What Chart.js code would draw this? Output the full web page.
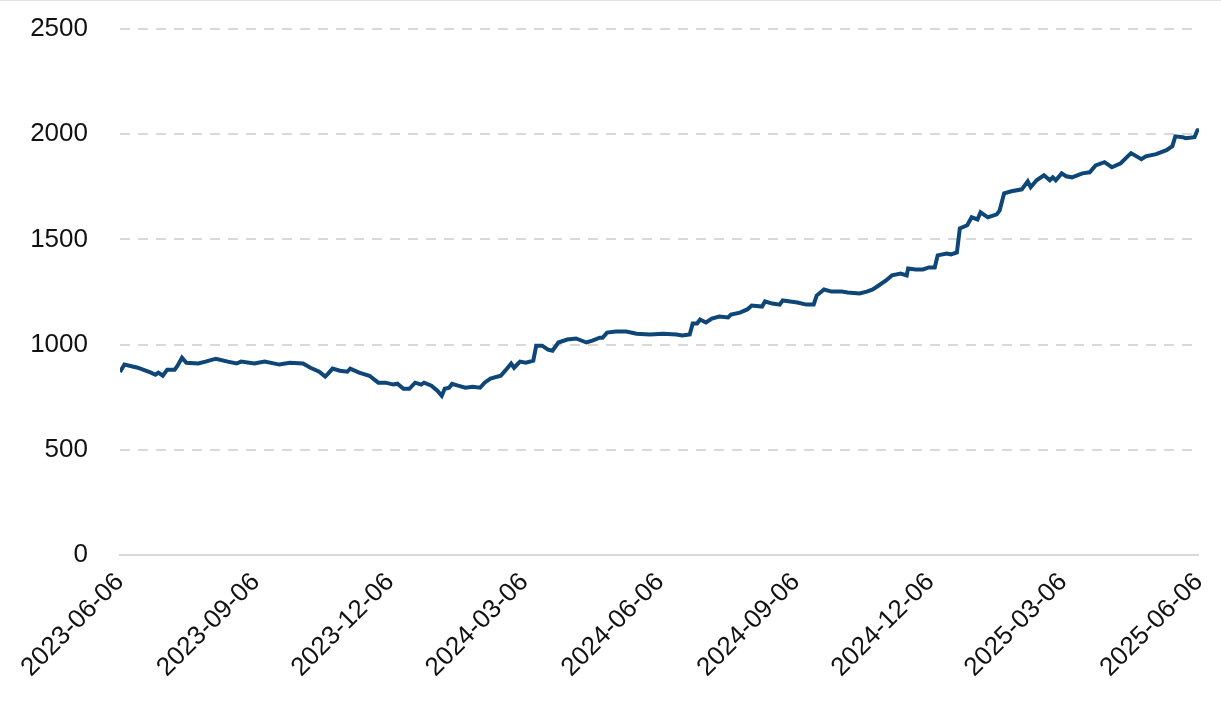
<!DOCTYPE html>
<html>
<head>
<meta charset="utf-8">
<script src="https://cdn.jsdelivr.net/npm/chart.js@4"></script>
<style>
  html, body { margin: 0; padding: 0; background: #fff; }
  #wrap { width: 1221px; height: 713px; border-top: 1px solid #e3e3e3; }
</style>
</head>
<body>
<div id="wrap"><canvas id="myChart" width="1221" height="713"></canvas></div>
<script>
// days since 2023-06-06
const days = [0, 3, 12, 21, 24, 26, 29, 32, 37, 39, 42, 45, 53, 58, 65, 73, 79, 82, 91, 98,
    108, 115, 124, 129, 135, 139, 141, 144, 149, 154, 156, 162, 169, 175, 180, 185, 188, 192, 196, 200,
    204, 206, 211, 215, 218, 220, 223, 225, 229, 234, 239, 244, 247, 251, 258, 261, 265, 267, 271, 275,
    280, 282, 286, 290, 293, 297, 303, 309, 316, 320, 325, 327, 330, 336, 343, 350, 359, 368, 377, 381,
    386, 388, 391, 393, 397, 401, 406, 412, 414, 420, 425, 428, 435, 437, 442, 447, 449, 454, 459, 465,
    470, 472, 477, 482, 489, 493, 501, 506, 510, 514, 519, 523, 529, 533, 534, 539, 544, 548, 552, 554,
    560, 563, 567, 569, 574, 577, 581, 583, 588, 594, 596, 599, 604, 611, 615, 617, 621, 626, 630, 632,
    634, 638, 641, 645, 652, 657, 661, 667, 672, 678, 682, 685, 692, 695, 702, 709, 713, 715, 720, 722,
    728, 730, 731];

const values = [870, 905, 890, 867, 857, 867, 852, 881, 881, 900, 938, 914, 910, 919, 933, 919, 910, 919, 910, 919,
    905, 914, 910, 890, 871, 848, 862, 886, 876, 871, 886, 867, 852, 819, 819, 810, 814, 790, 790, 819,
    810, 819, 805, 781, 757, 790, 795, 814, 805, 795, 800, 795, 819, 838, 852, 876, 910, 890, 919, 914,
    924, 995, 995, 976, 971, 1010, 1024, 1029, 1010, 1019, 1033, 1033, 1057, 1062, 1062, 1052, 1048, 1052, 1048, 1043,
    1048, 1100, 1100, 1119, 1105, 1124, 1133, 1129, 1143, 1152, 1167, 1186, 1181, 1205, 1195, 1190, 1210, 1205, 1200, 1190,
    1190, 1233, 1262, 1252, 1252, 1248, 1243, 1252, 1262, 1281, 1305, 1329, 1338, 1329, 1362, 1357, 1357, 1367, 1367, 1424,
    1433, 1429, 1438, 1552, 1567, 1605, 1595, 1629, 1605, 1619, 1638, 1719, 1729, 1738, 1776, 1748, 1781, 1805, 1781, 1795,
    1781, 1814, 1800, 1795, 1814, 1819, 1852, 1867, 1843, 1862, 1890, 1910, 1881, 1895, 1905, 1924, 1943, 1990, 1986, 1981,
    1986, 2019, 2020];

const tickDays = [0, 92, 183, 274, 366, 458, 549, 639, 731];
const tickLabels = ['2023-06-06', '2023-09-06', '2023-12-06', '2024-03-06', '2024-06-06',
    '2024-09-06', '2024-12-06', '2025-03-06', '2025-06-06'];
const yTicks = [0, 500, 1000, 1500, 2000, 2500];

const chartCtx = document.getElementById('myChart').getContext('2d');
const chartConfig = {
    type: 'line',
    data: {
        datasets: [{
            data: days.map((d, i) => ({ x: d, y: values[i] })),
            borderColor: '#0d4677',
            borderWidth: 4,
            pointRadius: 0,
            tension: 0,
            fill: false,
        }]
    },
    options: {
        responsive: false,
        animation: false,
        layout: { padding: { top: 28, right: 0, left: 0, bottom: 0 } },
        plugins: {
            legend: { display: false },
            tooltip: { enabled: false }
        },
        scales: {
            x: {
                type: 'linear',
                min: 0,
                max: 731,
                afterBuildTicks: scale => { scale.ticks = tickDays.map(v => ({ value: v })); },
                afterFit: scale => { scale.height = 159; },
                // invisible ticks push the labels down without adding side padding
                grid: { display: false, drawTicks: true, tickLength: 12, tickColor: 'rgba(0,0,0,0)' },
                border: { display: true, color: '#d9d9d9', width: 2 },
                ticks: {
                    autoSkip: false,
                    minRotation: 45,
                    maxRotation: 45,
                    padding: 0,
                    color: '#111',
                    font: { family: 'Liberation Sans, Arial', size: 26 },
                    callback: (v, i) => tickLabels[i]
                }
            },
            y: {
                min: 0,
                max: 2500,
                afterBuildTicks: scale => { scale.ticks = yTicks.map(v => ({ value: v })); },
                afterFit: scale => { scale.width = 120; },
                grid: { color: '#d9d9d9', lineWidth: 2, drawTicks: true, tickLength: 32, tickColor: 'rgba(0,0,0,0)' },
                border: { display: false, dash: [10, 8] },
                ticks: {
                    padding: 0,
                    color: '#111',
                    font: { family: 'Liberation Sans, Arial', size: 26 },
                    callback: v => String(v)
                }
            }
        }
    }
};

new Chart(chartCtx, chartConfig);
</script>
</body>
</html>
